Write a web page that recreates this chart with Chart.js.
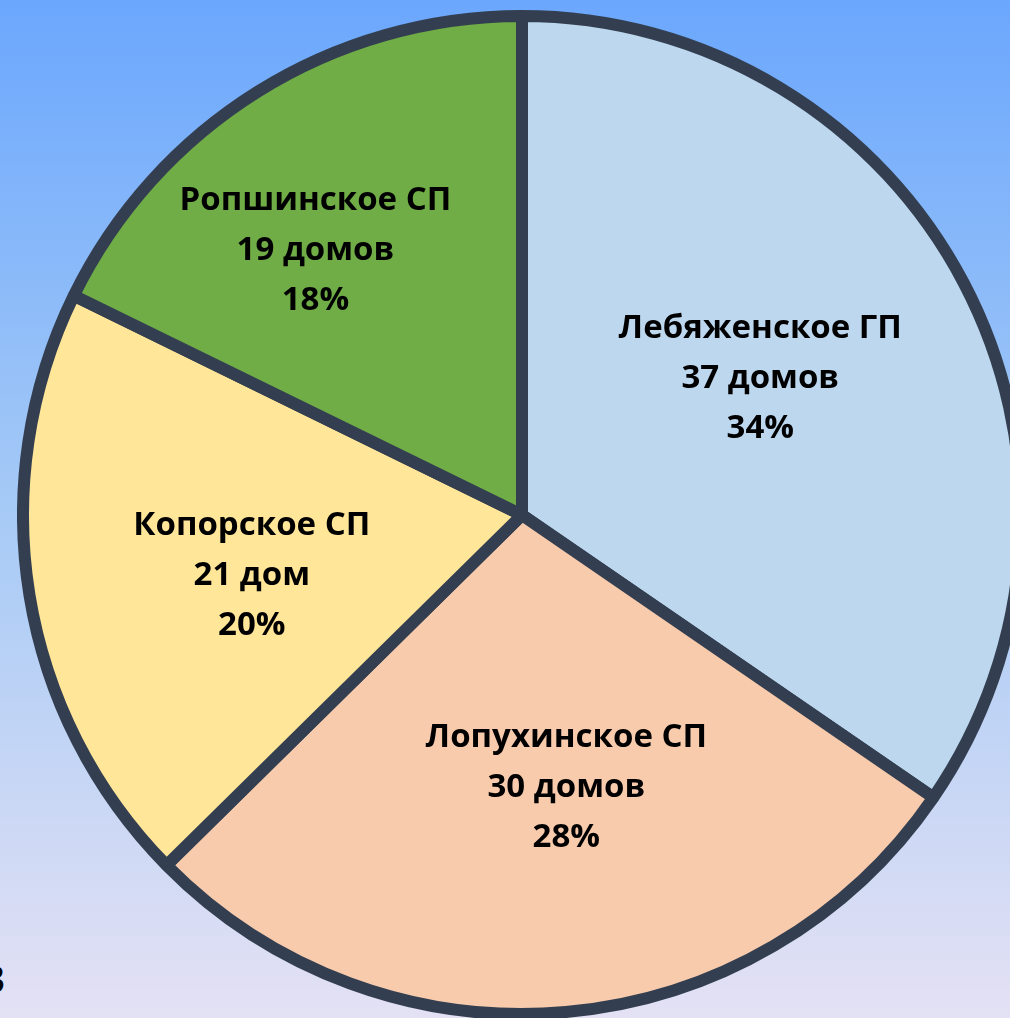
<!DOCTYPE html>
<html>
<head>
<meta charset="utf-8">
<script src="https://cdn.jsdelivr.net/npm/chart.js@4"></script>
<style>
  html, body {
    margin: 0;
    padding: 0;
    width: 1010px;
    height: 1018px;
    overflow: hidden;
  }
  body {
    position: relative;
    background: linear-gradient(to bottom, #6ba7fd 0%, #a6caf6 50%, #e4e1f4 100%);
  }
  #wrap {
    position: absolute;
    left: 17px;
    top: 10px;
    width: 1010px;
    height: 1010px;
  }
  #cut {
    position: absolute;
    left: -17px;
    top: 952px;
    font: bold 38px "Open Sans", sans-serif;
    color: #000;
  }
</style>
</head>
<body>
<div id="wrap"><canvas id="myChart" width="1010" height="1010"></canvas></div>
<div id="cut">3</div>
<script>
// data
const districts = ['Лебяженское ГП', 'Лопухинское СП', 'Копорское СП', 'Ропшинское СП'];
const houses = [37, 30, 21, 19];
const houseWords = ['домов', 'домов', 'дом', 'домов'];
const percentLabels = ['34%', '28%', '20%', '18%'];
const sliceColors = ['#bdd7ee', '#f8cbad', '#ffe699', '#70ad47'];

// label placement (fraction of radius, angle shift in degrees)
const labelDist = [0.55, 0.553, 0.555, 0.673];
const labelShift = [-2, -4.2, -3.4, -6];

const sliceLabels = {
    id: 'sliceLabels',
    afterDatasetsDraw(chart) {
        const ctx = chart.ctx;
        const meta = chart.getDatasetMeta(0);
        ctx.save();
        ctx.fillStyle = '#000';
        ctx.font = 'bold 33px "Open Sans", sans-serif';
        ctx.textAlign = 'center';
        ctx.textBaseline = 'middle';
        meta.data.forEach((arc, i) => {
            const p = arc.getProps(['x', 'y', 'startAngle', 'endAngle', 'outerRadius'], true);
            const mid = (p.startAngle + p.endAngle) / 2 + labelShift[i] * Math.PI / 180;
            const r = p.outerRadius * labelDist[i];
            const cx = p.x + Math.cos(mid) * r;
            const cy = p.y + Math.sin(mid) * r;
            const lines = [districts[i], houses[i] + ' ' + houseWords[i], percentLabels[i]];
            lines.forEach((t, j) => {
                ctx.fillText(t, cx, cy + (j - 1) * 50);
            });
        });
        ctx.restore();
    }
};

const ctx = document.getElementById('myChart').getContext('2d');

const myChart = new Chart(ctx, {
    type: 'pie',
    data: {
        labels: districts,
        datasets: [{
            data: houses,
            backgroundColor: sliceColors,
            borderColor: '#333f50',
            borderWidth: 12,
            hoverOffset: 0,
            offset: 0
        }]
    },
    options: {
        responsive: false,
        animation: false,
        layout: { padding: 0 },
        events: [],
        plugins: {
            legend: { display: false },
            tooltip: { enabled: false }
        }
    },
    plugins: [sliceLabels]
});
</script>
</body>
</html>
